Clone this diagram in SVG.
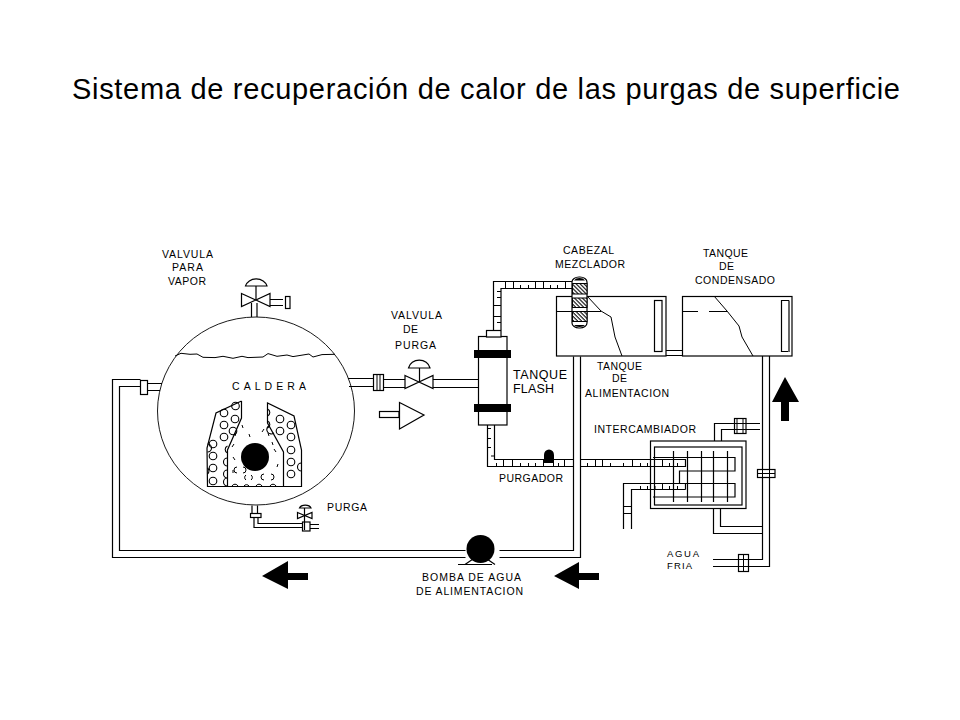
<svg xmlns="http://www.w3.org/2000/svg" width="960" height="720" viewBox="0 0 960 720">
<style>
text{font-family:"Liberation Sans",Arial,sans-serif;font-size:10.500px;fill:#000}
.title{font-size:29px}
.big{font-size:12.500px}
.sm{font-size:9.500px}
.l{fill:none;stroke:#000;stroke-width:1.2;stroke-linejoin:miter}
.w{fill:#fff;stroke:#000;stroke-width:1.2}
.t{fill:none;stroke:#000;stroke-width:1}
.k{fill:#000;stroke:none}
.c{fill:none;stroke:#000;stroke-width:1.100}
</style>
<defs>
<pattern id="hatch" width="2.800" height="2.800" patternUnits="userSpaceOnUse" patternTransform="rotate(45)">
<rect width="2.800" height="2.800" fill="#fff"/><rect width="2.800" height="1.100" fill="#000"/>
</pattern>
<circle id="o" r="3.800" class="c"/>
</defs>
<rect width="960" height="720" fill="#fff"/>
<text class="title" x="72" y="99" textLength="828">Sistema de recuperación de calor de las purgas de superficie</text>

<g id="connectors">
<!-- feed loop -->
<path class="l" d="M140.500 379.500H112.500V557.500H465.500M499.500 557.500H580.500V356.500"/>
<path class="l" d="M140.500 386.500H119.500V550.500H465.500M499.500 550.500H573.500V356.500"/>
<path class="l" d="M147 383.500H162M147 390.500H160"/>
<!-- boiler to flash -->
<path class="l" d="M348 378.500H373M349 386.500H373M383 379.500H405M383 387.500H405M433 379.500H478M433 387.500H478"/>
<!-- flash to mixer -->
<path class="l" d="M493.500 330V305.500M493.500 305.500V281.500H572M501 330V288.500H572"/>
<path class="t" d="M505.500 282V288M513.500 282V288M535.500 282V288M543.500 282V288M565.500 282V288M520.500 285V288M528.500 285V288M550.500 285V288M557.500 285V288M493.500 305.500H501M493.500 316.500H501M497 291.500H501M497 297.500H501M497 322.500H501"/>
<!-- flash to trap to exchanger -->
<path class="l" d="M487.500 425V466.500H573M494.500 425V459.500H573M580.500 459.500H685.500V466.500H580.500"/>
<path class="t" d="M503.500 459.500V466M512.500 459.500V466M543.500 459.500V466M553.500 459.500V466M564.500 459.500V466M496.500 463V466M520.500 463V466M528.500 463V466M535.500 463V466M558.500 463V466M595.500 459.500V466M602.500 459.500V466M632.500 459.500V466M662.500 459.500V466M587.500 463V466M610.500 463V466M623.500 463V466M640.500 463V466M647.500 463V466M669.500 463V466M677.500 463V466M488 428.500H491M488 438.500H491M488 447.500H491M491 456H494"/>
<!-- exchanger outlet -->
<path class="l" d="M685.500 483.500H623.500V529M685.500 489.500H631.500V529M623.500 506.500H631.500M623.500 513.500H631.500M685.500 483.500V489.500"/>
<path class="t" d="M662.500 483.500V489M640.500 486V489M647.500 486V489M655 486V489M669.500 486V489M677.500 486V489"/>
<!-- tanks link -->
<path class="l" d="M666 350.500H682M666 355.500H682"/>
<!-- condensate and water lines -->
<path class="l" d="M762.500 356V559.500H713M769.500 356V566.500H713"/>
<path class="l" d="M713.500 508V533.500H762M720.500 508V526.500H762"/>
<path class="l" d="M714.500 441V423.500H760M721.500 441V429.500H760"/>
</g>

<g id="caldera">
<ellipse cx="256" cy="411" rx="98.500" ry="94" fill="none" stroke="#000" stroke-width="0.900"/>
<path class="t" d="M175 356L181 353.300 190 354.300 197 354 203 357.300 215 357.600 223 356.300 233 358.300 242 356.300 248 357.600 263 357 268 353.600 277 356.300 287 355 293 356.600 309 354 313 357 322 354.600 335 354.300"/>
<path class="l" d="M241.500 401L216 413 207 448 207.500 486.500H301.500V450L294 416 267.500 403V423L283.500 452V486.500"/>
<path class="l" d="M241.500 401V418L227.500 450V486.500"/>
<circle class="k" cx="255" cy="457" r="14"/>
<g id="tubos">
<use href="#o" x="235.500" y="406"/><use href="#o" x="224" y="413"/><use href="#o" x="235" y="419"/><use href="#o" x="224" y="425"/><use href="#o" x="233" y="431"/><use href="#o" x="224" y="437"/><use href="#o" x="213" y="444"/><use href="#o" x="213" y="456"/><use href="#o" x="213" y="468"/><use href="#o" x="213" y="481"/><use href="#o" x="280" y="419"/><use href="#o" x="291" y="425"/><use href="#o" x="280" y="431"/><use href="#o" x="291" y="437"/><use href="#o" x="291" y="450"/><use href="#o" x="291" y="462"/><use href="#o" x="291" y="474"/>
</g>
<path class="c" d="M227.500 446A3.800 3.800 0 0 0 227.500 453M227.500 458A3.800 3.800 0 0 0 227.500 466M227.500 470A3.800 3.800 0 0 0 227.500 478M227.500 478A3.800 3.800 0 0 0 227.500 486M267.500 409A3.800 3.800 0 0 1 267.500 416M267.500 421A3.800 3.800 0 0 1 267.500 428M268.500 426A3.800 3.800 0 0 0 274 433M301.500 463A3.800 3.800 0 0 0 301.500 471M207.500 444A3.800 3.800 0 0 1 207.500 452M207.500 468A3.800 3.800 0 0 1 207.500 474"/>
<path class="t" d="M242 425l1 3M249 434l1 3M236 433l-1 3M262 432l2 -3M268 433l1 3M232 447l2 -3M233 457l2 3M233 470v3M237 467a3 3 0 0 0 0 6M243 467a3 3 0 0 1 0 6M246 475a3 3 0 0 0 0 5M251 475a3 3 0 0 1 0 5M264 474a3 3 0 0 0 0 6M271 474a3 3 0 0 1 0 6M278 464l-1 3M276 452l-2 -3M272 442l1 3M232 486a3.400 3.400 0 0 1 6 0M256 486a3.400 3.400 0 0 1 6 0M270 486a3.400 3.400 0 0 1 6 0M244 486a3 3 0 0 1 5 0"/>
<text x="232" y="390" textLength="74">CALDERA</text>
</g>

<g id="valvula-vapor">
<path class="w" d="M245.500 286A11 9 0 0 1 267 286Z"/>
<path class="l" d="M256 286V300M251.500 303V317M257 303V317"/>
<path class="w" d="M241.500 293.500L270 306.500V293.500L241.500 306.500Z"/>
<path class="l" d="M270 299.500H283M270 305.500H283"/>
<rect class="l" x="285.500" y="296.500" width="4.500" height="12"/>
<text x="162" y="258" textLength="51">VALVULA</text>
<text x="172" y="271" textLength="31">PARA</text>
<text x="168" y="285" textLength="38">VAPOR</text>
</g>

<g id="brida-alimentacion"><rect class="w" x="140.500" y="380.500" width="7" height="14"/></g>

<g id="purga">
<path class="l" d="M252 505.500V513M257.500 505.500V513"/>
<rect class="w" x="250.500" y="513.500" width="10.500" height="4"/>
<path class="l" d="M254 517.500V527.500H302M258 517.500V523.500H302M310 524.500H319M310 528.500H319"/>
<rect class="w" x="302.500" y="522" width="7.500" height="9"/>
<path class="w" d="M299.500 508A6 4 0 0 1 311 508Z"/>
<path class="l" d="M304.500 508V530"/>
<path class="l" d="M297.500 512.500L312 518.500V512.500L297.500 518.500Z"/>
<text x="327" y="511" textLength="40">PURGA</text>
</g>

<g id="brida-salida">
<rect class="w" x="373.500" y="374.500" width="10" height="16"/>
<path class="t" d="M377 374.500V390M380 374.500V390"/>
</g>

<g id="valvula-purga">
<path class="w" d="M408.500 368A11 10 0 0 1 430 368Z"/>
<path class="l" d="M419.500 368V382"/>
<path class="w" d="M405 375.500L433 388.500V375.500L405 388.500Z"/>
<text x="391" y="319" textLength="51">VALVULA</text>
<text x="403" y="333" textLength="15">DE</text>
<text x="395" y="349" textLength="41">PURGA</text>
</g>

<g id="flecha-hueca">
<rect class="l" x="379.500" y="411.500" width="19.500" height="6"/>
<path class="w" d="M399.500 402.500L424 415 399.500 429Z"/>
</g>

<g id="tanque-flash">
<rect class="w" x="478.500" y="336.500" width="28.500" height="88.500"/>
<rect class="w" x="486.500" y="330.500" width="14.500" height="6.500"/>
<rect class="k" x="474" y="350" width="37" height="8"/>
<rect class="k" x="474" y="404" width="37" height="8"/>
<text class="big" x="513" y="379" textLength="54">TANQUE</text>
<text class="big" x="513" y="393" textLength="41">FLASH</text>
</g>

<g id="purgador">
<path class="k" d="M544 463V455A5 5.500 0 0 1 554 455V463Z"/>
<text x="499" y="482" textLength="64">PURGADOR</text>
</g>

<g id="bomba">
<path class="l" d="M458 564.500H492M465 564.500L473 559M495 564.500L487 559"/>
<circle class="k" cx="480.500" cy="549" r="14"/>
<text x="422" y="581" textLength="99">BOMBA DE  AGUA</text>
<text x="416" y="595" textLength="107">DE  ALIMENTACION</text>
</g>

<g id="flecha-izquierda"><path class="k" d="M262 576L288 561V573H308V580H288V589Z"/></g>
<g id="flecha-derecha"><path class="k" d="M554 576L579 562V573H599V580H579V589Z"/></g>
<g id="flecha-arriba"><path class="k" d="M785 377L799 402H789V421H781V402H772Z"/></g>

<g id="tanque-alimentacion">
<rect class="l" x="556.500" y="296.500" width="109.500" height="59.500"/>
<path class="l" d="M556.500 311.500H601"/>
<path class="t" d="M587 296L601 311 611 317 615 337 622 356"/>
<rect class="l" x="654.500" y="300.500" width="7.500" height="51"/>
<text x="597" y="370" textLength="45">TANQUE</text>
<text x="612" y="382" textLength="15">DE</text>
<text x="585" y="397" textLength="84">ALIMENTACION</text>
</g>

<g id="cabezal">
<rect class="w" x="572" y="277" width="15" height="51" rx="7" ry="5"/>
<path class="k" d="M574 280.500A6 4 0 0 1 585 280.500ZM574 325A6 3.500 0 0 0 585 325Z"/>
<rect x="572.500" y="283.500" width="14.500" height="10.500" fill="url(#hatch)" stroke="#000"/>
<rect x="572.500" y="298" width="14.500" height="9.500" fill="url(#hatch)" stroke="#000"/>
<rect x="572.500" y="311.500" width="14.500" height="10" fill="url(#hatch)" stroke="#000"/>
<text x="563" y="254" textLength="51">CABEZAL</text>
<text x="555" y="268" textLength="70">MEZCLADOR</text>
</g>

<g id="tanque-condensado">
<rect class="l" x="682.500" y="296.500" width="109.500" height="59.500"/>
<path class="l" d="M682.500 311.500H698M709 311.500H727"/>
<path class="t" d="M714 296L727 311 739 326 742 337 753 356"/>
<path class="l" d="M789 300.500H781.500V351.500H788"/>
<path class="l" d="M789 300.500V352"/>
<text x="703" y="257" textLength="45">TANQUE</text>
<text x="719" y="270" textLength="15">DE</text>
<text x="695" y="284" textLength="80">CONDENSADO</text>
</g>

<g id="intercambiador">
<rect class="l" x="650.500" y="441" width="95.500" height="67.500"/>
<rect class="l" x="654.500" y="447" width="87.500" height="58"/>
<path class="l" d="M653 457.500H735V471H679.500V483.500H735V497H653"/>
<path class="l" d="M673.500 451V502M687.500 451V502M701.500 451V502M713.500 451V502M727.500 451V502"/>
<text x="594" y="433" textLength="102">INTERCAMBIADOR</text>
</g>

<g id="bridas-agua">
<rect class="l" x="734.500" y="418.500" width="11.500" height="15"/>
<path class="t" d="M737 418.500V433.500M743 418.500V433.500M734 423.500H746M734 429.500H746"/>
<rect class="w" x="757.500" y="469.500" width="17.500" height="8"/>
<path class="t" d="M757.500 473.500H775M762.500 469.500V477.500M769.500 469.500V477.500"/>
<rect class="w" x="738.500" y="554.500" width="10" height="17"/>
<path class="t" d="M743.500 554.500V571.500M738.500 559.500H748.500M738.500 566.500H748.500"/>
<text class="sm" x="667" y="557" textLength="32">AGUA</text>
<text class="sm" x="667" y="568.500" textLength="25">FRIA</text>
</g>
</svg>
